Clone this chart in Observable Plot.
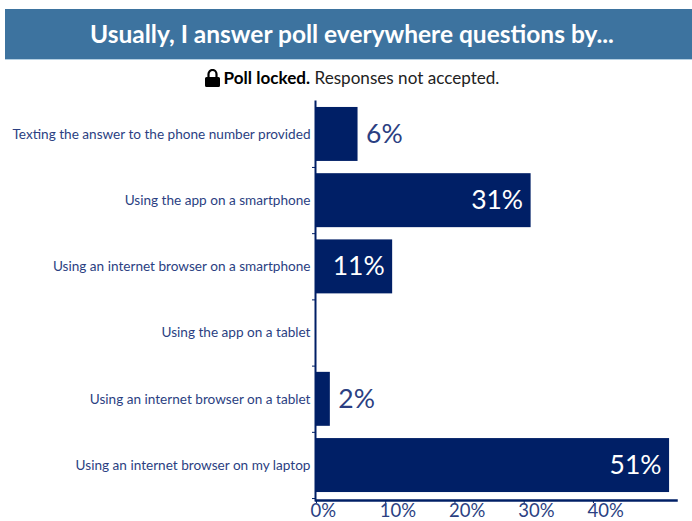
<!DOCTYPE html>
<html>
<head>
<meta charset="utf-8">
<script src="https://cdn.jsdelivr.net/npm/d3@7"></script>
<script src="https://cdn.jsdelivr.net/npm/@observablehq/plot@0.6"></script>
<style>
  html, body { margin: 0; padding: 0; background: #fff; width: 692px; height: 521px; overflow: hidden; font-family: Lato, "Noto Sans", sans-serif; }
  #banner { position: absolute; left: 5px; right: 0; top: 9px; height: 51px; line-height: 49px; box-sizing: border-box; background: #3d739f; border-bottom: 1px solid #b4cfe2; color: #fff; font-size: 24.5px; font-weight: 700; text-align: center; padding-left: 7px; }
  #status { position: absolute; left: 6px; width: 692px; top: 67px; height: 22px; line-height: 22px; text-align: center; font-size: 17.1px; color: #222; white-space: nowrap; }
  #status b { color: #000; }
  #status svg { vertical-align: -3px; margin-right: 4px; }
  #chart { position: absolute; left: 0; top: 90px; }
</style>
</head>
<body>
<div id="banner"></div>
<div id="status"><svg width="15" height="18" viewBox="0 0 15 18"><path d="M1.5 8h12a1.5 1.5 0 0 1 1.5 1.5v7a1.5 1.5 0 0 1-1.5 1.5h-12A1.5 1.5 0 0 1 0 16.5v-7A1.5 1.5 0 0 1 1.5 8z" fill="#000"/><path d="M3.5 9V5a4 4 0 0 1 8 0v4" fill="none" stroke="#000" stroke-width="2.2"/></svg><b>Poll locked.</b> Responses not accepted.</div>
<div id="chart"></div>
<script>
// Poll question and responses, in the order they are listed
const question = "Usually, I answer poll everywhere questions by...";
const answers = [
  "Texting the answer to the phone number provided",
  "Using the app on a smartphone",
  "Using an internet browser on a smartphone",
  "Using the app on a tablet",
  "Using an internet browser on a tablet",
  "Using an internet browser on my laptop"
];
const shares = [6, 31, 11, 0, 2, 51];
const xTicks = [0, 10, 20, 30, 40];

const navy = "#001f66";
const inkBlue = "#2b3f82";
const rows = answers.map((answer, i) => ({answer, share: shares[i]}));
const pct = d => d + "%";

document.getElementById("banner").textContent = question;

const chart = Plot.plot({
  width: 692,
  height: 431,
  marginLeft: 316,
  marginRight: 16,
  marginTop: 11,
  marginBottom: 21,
  style: {fontFamily: "Lato, 'Noto Sans', sans-serif", background: "transparent", color: inkBlue},
  x: {domain: [0, 52], axis: null},
  y: {domain: answers, axis: null, range: [11, 408], paddingInner: 0.185, paddingOuter: 0.09, align: 0.5, round: false},
  marks: [
    Plot.barX(rows, {x: "share", y: "answer", fill: navy}),
    // Axis lines along the left and bottom of the plot area
    Plot.frame({anchor: "left", stroke: navy, strokeWidth: 2, dx: -1}),
    Plot.frame({anchor: "bottom", stroke: navy, strokeWidth: 2.5}),
    // Answer labels, with ticks sitting on the boundaries between bands
    Plot.axisY({anchor: "left", tickSize: 0, tickPadding: 6, fontSize: 13.6, lineWidth: 60, label: null, fill: inkBlue, stroke: "none"}),
    Plot.axisY({anchor: "left", tickSize: 3, fill: "none", label: null, dy: 33, dx: -1, stroke: navy}),
    // Percentage axis: labels begin at their tick rather than centring on it
    Plot.axisX({ticks: xTicks, tickSize: 3, fill: "none", label: null, anchor: "bottom", stroke: navy}),
    Plot.axisX({ticks: xTicks, tickSize: 0, tickPadding: 3, tickFormat: pct, label: null, anchor: "bottom", fontSize: 18.5, textAnchor: "start", dx: -6, fill: inkBlue, stroke: "none"}),
    // Value labels: inside the bar when it is long enough, beyond it otherwise
    Plot.text(rows.filter(d => d.share >= 10), {x: "share", y: "answer", text: d => pct(d.share), fill: "#fff", fontSize: 26.5, textAnchor: "end", dx: -8}),
    Plot.text(rows.filter(d => d.share > 0 && d.share < 10), {x: "share", y: "answer", text: d => pct(d.share), fill: inkBlue, fontSize: 26.5, textAnchor: "start", dx: 8})
  ]
});
document.getElementById("chart").appendChild(chart);
</script>
</body>
</html>
